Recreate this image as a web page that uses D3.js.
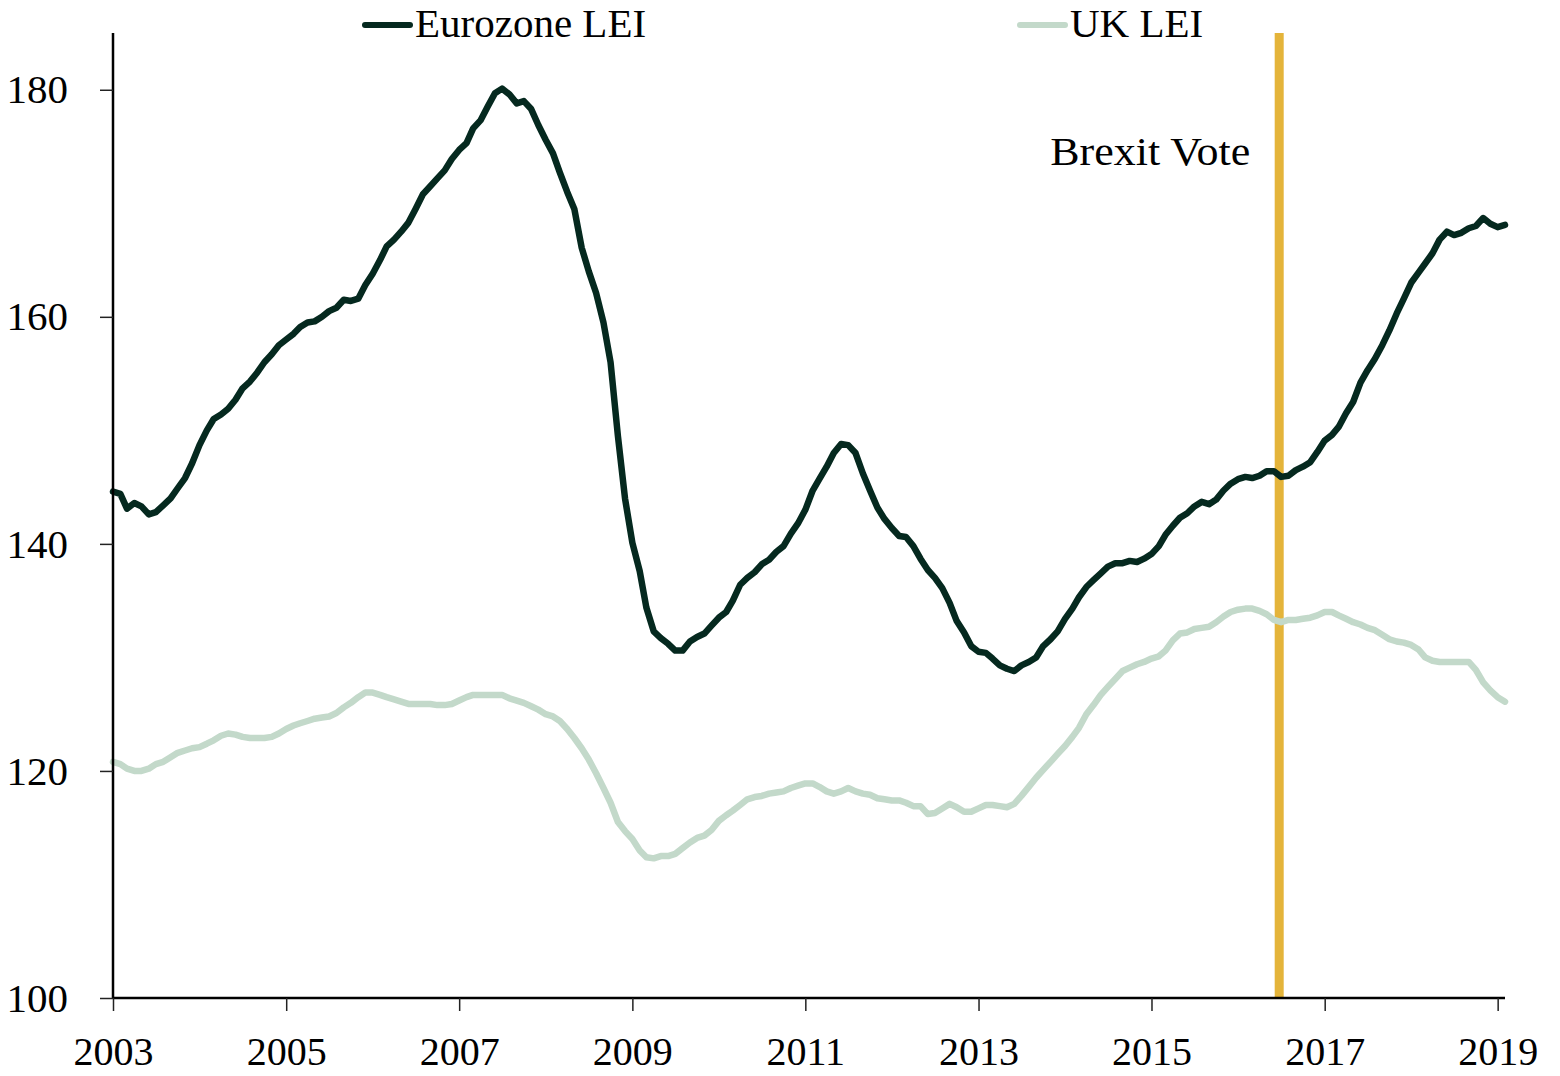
<!DOCTYPE html>
<html>
<head>
<meta charset="utf-8">
<script src="https://cdn.jsdelivr.net/npm/d3@7"></script>
<style>
  body { margin: 0; background: #fff; }
  svg text { font-family: "Liberation Serif", "DejaVu Serif", serif; fill: #000; }
</style>
</head>
<body>
<div id="chart"></div>
<script>
// monthly readings, Jan 2003 .. Feb 2019
const months = d3.timeMonth.range(new Date(2003, 0, 1), new Date(2019, 2, 1))

const eurozoneLEI = [
    144.6, 144.4, 143.1, 143.6, 143.3, 142.6, 142.8, 143.4, 144.0, 144.9, 145.8, 147.1,
    148.7, 150.0, 151.0, 151.4, 151.9, 152.7, 153.7, 154.3, 155.1, 156.0, 156.7, 157.5,
    158.0, 158.5, 159.1, 159.5, 159.6, 160.0, 160.5, 160.8, 161.5, 161.4, 161.6, 162.8,
    163.8, 165.0, 166.2, 166.8, 167.5, 168.3, 169.5, 170.8, 171.5, 172.2, 172.9, 173.9,
    174.7, 175.3, 176.6, 177.3, 178.5, 179.7, 180.1, 179.6, 178.8, 179.0, 178.3, 176.9,
    175.6, 174.4, 172.7, 171.0, 169.5, 166.1, 164.0, 162.1, 159.5, 156.0, 149.5, 144.0,
    140.1, 137.6, 134.4, 132.3, 131.7, 131.2, 130.6, 130.6, 131.4, 131.8, 132.1, 132.8,
    133.5, 134.0, 135.0, 136.4, 137.0, 137.5, 138.2, 138.6, 139.3, 139.8, 140.9, 141.8,
    143.0, 144.7, 145.7, 146.8, 148.0, 148.8, 148.7, 148.0, 146.2, 144.7, 143.2, 142.2,
    141.4, 140.7, 140.6, 139.8, 138.7, 137.7, 137.0, 136.1, 134.8, 133.2, 132.2, 131.0,
    130.5, 130.4, 129.9, 129.3, 129.0, 128.8, 129.3, 129.6, 130.0, 131.0, 131.6, 132.3,
    133.4, 134.3, 135.3, 136.2, 136.8, 137.4, 138.0, 138.3, 138.3, 138.5, 138.4, 138.7,
    139.1, 139.8, 140.8, 141.6, 142.3, 142.7, 143.3, 143.7, 143.5, 143.9, 144.7, 145.3,
    145.7, 145.9, 145.8, 146.0, 146.4, 146.4, 145.9, 146.0, 146.5, 146.8, 147.2, 148.1,
    149.1, 149.6, 150.3, 151.5, 152.5, 154.2, 155.3, 156.3, 157.5, 158.8, 160.3, 161.6,
    163.0, 163.9, 164.7, 165.6, 166.8, 167.5, 167.2, 167.4, 167.8, 168.0, 168.7, 168.2,
    167.9, 168.1
]

const ukLEI = [
    120.8, 120.6, 120.2, 120.0, 120.0, 120.2, 120.6, 120.8, 121.2, 121.6, 121.8, 122.0,
    122.1, 122.4, 122.7, 123.1, 123.3, 123.2, 123.0, 122.9, 122.9, 122.9, 123.0, 123.3,
    123.7, 124.0, 124.2, 124.4, 124.6, 124.7, 124.8, 125.1, 125.6, 126.0, 126.5, 126.9,
    126.9, 126.7, 126.5, 126.3, 126.1, 125.9, 125.9, 125.9, 125.9, 125.8, 125.8, 125.9,
    126.2, 126.5, 126.7, 126.7, 126.7, 126.7, 126.7, 126.4, 126.2, 126.0, 125.7, 125.4,
    125.0, 124.8, 124.4, 123.7, 122.9, 122.0, 121.0, 119.8, 118.5, 117.2, 115.5, 114.7,
    114.0, 113.0, 112.4, 112.3, 112.5, 112.5, 112.7, 113.2, 113.7, 114.1, 114.3, 114.8,
    115.6, 116.1, 116.5, 117.0, 117.5, 117.7, 117.8, 118.0, 118.1, 118.2, 118.5, 118.7,
    118.9, 118.9, 118.6, 118.2, 118.0, 118.2, 118.5, 118.2, 118.0, 117.9, 117.6, 117.5,
    117.4, 117.4, 117.2, 116.9, 116.9, 116.2, 116.3, 116.7, 117.1, 116.8, 116.4, 116.4,
    116.7, 117.0, 117.0, 116.9, 116.8, 117.1, 117.8, 118.6, 119.4, 120.1, 120.8, 121.5,
    122.2, 123.0, 123.8, 125.0, 125.8, 126.7, 127.4, 128.1, 128.8, 129.1, 129.4, 129.6,
    129.9, 130.1, 130.6, 131.5, 132.1, 132.2, 132.5, 132.6, 132.7, 133.1, 133.6, 134.0,
    134.2, 134.3, 134.3, 134.1, 133.8, 133.3, 133.1, 133.3, 133.3, 133.4, 133.5, 133.7,
    134.0, 134.0, 133.7, 133.4, 133.1, 132.9, 132.6, 132.4, 132.0, 131.6, 131.4, 131.3,
    131.1, 130.7, 130.0, 129.7, 129.6, 129.6, 129.6, 129.6, 129.6, 128.9, 127.8, 127.1,
    126.5, 126.1
]

const yTicks = [100, 120, 140, 160, 180]
const xTickYears = [2003, 2005, 2007, 2009, 2011, 2013, 2015, 2017, 2019]
const seriesNames = ["Eurozone LEI", "UK LEI"]
const brexitDate = new Date(2016, 5, 23)
const brexitLabel = "Brexit Vote"

function drawChart() {
    var width = 1560
    var height = 1076
    var margin = { top: 33, right: 55, bottom: 78, left: 113 }

    var colors = ["#05291f", "#c3d9ca"]

    var svg = d3.select("#chart")
        .append("svg")
        .attr("width", width)
        .attr("height", height)

    var x = d3.scaleTime()
        .domain([months[0], months[months.length - 1]])
        .range([margin.left, width - margin.right])

    var y = d3.scaleLinear()
        .domain([100, 185])
        .range([height - margin.bottom, margin.top])

    // brexit marker behind the lines
    svg.append("line")
        .attr("x1", x(brexitDate)).attr("x2", x(brexitDate))
        .attr("y1", y(185)).attr("y2", y(100))
        .attr("stroke", "#e4b43a")
        .attr("stroke-width", 9)

    svg.append("text")
        .attr("x", x(brexitDate) - 29)
        .attr("y", 165)
        .attr("text-anchor", "end")
        .attr("textLength", 200)
        .attr("lengthAdjust", "spacingAndGlyphs")
        .style("font-size", "41px")
        .text(brexitLabel)

    var line = d3.line()
        .x(function (d, i) { return x(months[i]) })
        .y(function (d) { return y(d) })

    // UK first, eurozone on top
    svg.append("path")
        .datum(ukLEI)
        .attr("d", line)
        .attr("fill", "none")
        .attr("stroke", colors[1])
        .attr("stroke-width", 6.5)
        .attr("stroke-linejoin", "round")
        .attr("stroke-linecap", "round")

    svg.append("path")
        .datum(eurozoneLEI)
        .attr("d", line)
        .attr("fill", "none")
        .attr("stroke", colors[0])
        .attr("stroke-width", 6.5)
        .attr("stroke-linejoin", "round")
        .attr("stroke-linecap", "round")

    // axes
    var xAxis = d3.axisBottom(x)
        .tickValues(xTickYears.map(function (yr) { return new Date(yr, 0, 1) }))
        .tickFormat(d3.timeFormat("%Y"))
        .tickSize(13)
        .tickPadding(26)

    var gx = svg.append("g")
        .attr("transform", "translate(0," + y(100) + ")")
        .call(xAxis)
    gx.select(".domain").attr("stroke", "#000").attr("stroke-width", 2.5)
        .attr("d", "M" + margin.left + ",0H" + (width - margin.right))
    gx.selectAll(".tick line").attr("stroke", "#222").attr("stroke-width", 1.5)
    gx.selectAll(".tick text")
        .style("font-family", "Liberation Serif, serif")
        .style("font-size", "40px")
        .attr("fill", "#000")

    var yAxis = d3.axisLeft(y)
        .tickValues(yTicks)
        .tickSize(13)
        .tickPadding(32)

    var gy = svg.append("g")
        .attr("transform", "translate(" + margin.left + ",0)")
        .call(yAxis)
    gy.select(".domain").attr("stroke", "#000").attr("stroke-width", 2.5)
        .attr("d", "M0," + y(185) + "V" + y(100))
    gy.selectAll(".tick line").attr("stroke", "#222").attr("stroke-width", 1.5)
    gy.selectAll(".tick text")
        .style("font-family", "Liberation Serif, serif")
        .style("font-size", "41px")
        .attr("fill", "#000")

    // legend
    var legendX = [365, 1020]
    var legend = svg.selectAll(".legend")
        .data(seriesNames)
        .enter()
        .append("g")
        .attr("class", "legend")
        .attr("transform", function (d, i) { return "translate(" + legendX[i] + ",25)" })

    legend.append("line")
        .attr("x1", 0).attr("x2", 45)
        .attr("y1", 0).attr("y2", 0)
        .attr("stroke", function (d, i) { return colors[i] })
        .attr("stroke-width", 6)
        .attr("stroke-linecap", "round")

    legend.append("text")
        .attr("x", 50)
        .attr("y", 12)
        .style("font-size", "41px")
        .text(function (d) { return d })
}

drawChart()
</script>
</body>
</html>
